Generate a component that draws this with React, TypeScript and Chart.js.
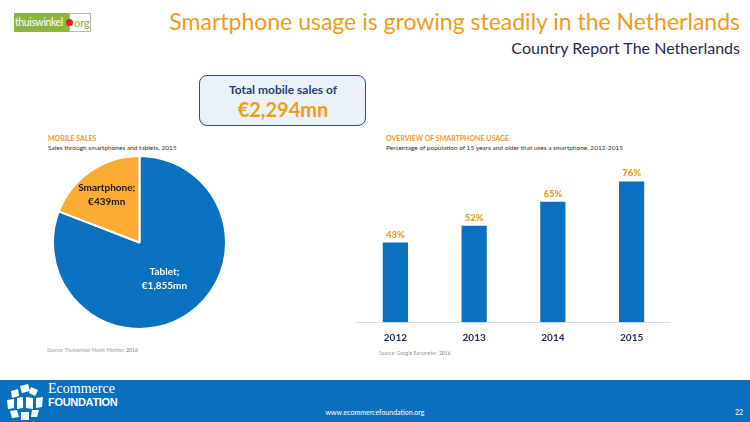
import React, { useEffect, useRef } from "react";
import { Chart, registerables } from "chart.js";

Chart.register(...registerables);

// ---- Data ----
const pieLabels = ["Tablet", "Smartphone"];
const pieValues = [1855, 439];
const pieValueText = ["€1,855mn", "€439mn"];
const barYears = ["2012", "2013", "2014", "2015"];
const barValues = [43, 52, 65, 76];

const BLUE = "#0A70C0";
const PIE_ORANGE = "#FBAB34";
const ORANGE = "#F39A1E";
const NAVY = "#1F2A55";
const FONT = "Lato, 'Open Sans', sans-serif";

const pieLabelPlugin = {
  id: "pieLabels",
  afterDatasetsDraw(chart: any) {
    const ctx = chart.ctx;
    const meta = chart.getDatasetMeta(0);
    const factors = [0.51, 0.67];
    const colors = ["#FFFFFF", "#1A1A1A"];
    meta.data.forEach((arc: any, i: number) => {
      const { x, y, startAngle, endAngle, outerRadius } = arc.getProps(
        ["x", "y", "startAngle", "endAngle", "outerRadius"],
        true
      );
      const mid = (startAngle + endAngle) / 2;
      const r = outerRadius * factors[i];
      const cx = x + Math.cos(mid) * r;
      const cy = y + Math.sin(mid) * r;
      ctx.save();
      ctx.fillStyle = colors[i];
      ctx.font = `bold 10px ${FONT}`;
      ctx.textAlign = "center";
      ctx.textBaseline = "middle";
      ctx.fillText(pieLabels[i] + ";", cx, cy - 7);
      ctx.fillText(pieValueText[i], cx, cy + 7);
      ctx.restore();
    });
  },
};

const barLabelPlugin = {
  id: "barLabels",
  afterDatasetsDraw(chart: any) {
    const ctx = chart.ctx;
    const meta = chart.getDatasetMeta(0);
    meta.data.forEach((bar: any, i: number) => {
      ctx.save();
      ctx.fillStyle = ORANGE;
      ctx.font = `900 9.5px ${FONT}`;
      ctx.textAlign = "center";
      ctx.textBaseline = "middle";
      ctx.fillText(barValues[i] + "%", bar.x, bar.y - 8);
      ctx.restore();
    });
  },
};

function EcomLogo() {
  return (
    <svg width="38" height="36" viewBox="0 0 38 36" style={{ position: "absolute", left: 6, top: 384 }}>
      <g fill="#FFFFFF">
        <polygon points="14,2 22,0 24,7 16,9" />
        <polygon points="25,3 32,6 29,12 23,9" />
        <polygon points="5,7 12,5 13,12 6,14" />
        <polygon points="1,16 8,15 8,24 2,25" />
        <polygon points="30,14 37,13 36,23 30,24" />
        <polygon points="4,27 11,26 13,33 6,34" />
        <polygon points="15,28 23,28 23,36 15,36" />
        <polygon points="26,26 33,26 31,33 25,33" />
        <polygon points="11,14 17,13 17,24 11,25" />
        <polygon points="20,13 27,14 27,25 20,24" />
      </g>
    </svg>
  );
}

export default function App() {
  const pieRef = useRef<HTMLCanvasElement>(null);
  const barRef = useRef<HTMLCanvasElement>(null);

  useEffect(() => {
    const pie = new Chart(pieRef.current!, {
      type: "pie",
      data: {
        labels: pieLabels,
        datasets: [
          {
            data: pieValues,
            backgroundColor: [BLUE, PIE_ORANGE],
            borderColor: "#FFFFFF",
            borderWidth: 2,
          },
        ],
      },
      options: {
        animation: false,
        responsive: false,
        maintainAspectRatio: false,
        plugins: { legend: { display: false }, tooltip: { enabled: false } },
        layout: { padding: 0 },
      },
      plugins: [pieLabelPlugin],
    });

    const bar = new Chart(barRef.current!, {
      type: "bar",
      data: {
        labels: barYears,
        datasets: [
          {
            data: barValues,
            backgroundColor: BLUE,
            barPercentage: 0.32,
            categoryPercentage: 1,
          },
        ],
      },
      options: {
        animation: false,
        responsive: false,
        maintainAspectRatio: false,
        plugins: { legend: { display: false }, tooltip: { enabled: false } },
        layout: { padding: 0 },
        scales: {
          x: {
            grid: { display: false, drawTicks: false },
            border: { display: true, color: "#D9D9D9", width: 1 },
            ticks: {
              color: NAVY,
              font: { family: FONT, size: 10, weight: "bold" },
              padding: 10,
            },
          },
          y: { display: false, min: 0, max: 100 },
        },
      },
      plugins: [barLabelPlugin],
    });

    return () => {
      pie.destroy();
      bar.destroy();
    };
  }, []);

  const abs = (s: React.CSSProperties): React.CSSProperties => ({ position: "absolute", whiteSpace: "nowrap", ...s });

  return (
    <div
      style={{
        position: "fixed",
        left: 0,
        top: 0,
        width: 750,
        height: 422,
        background: "#FFFFFF",
        overflow: "hidden",
        fontFamily: FONT,
      }}
    >
      {/* thuiswinkel logo */}
      <div style={abs({ left: 14, top: 13, width: 55, height: 19, background: "#8DB43C" })} />
      <div style={abs({ left: 15, top: 13, color: "#FFFFFF", fontSize: 10.5, lineHeight: "19px", letterSpacing: -0.4 })}>
        thuiswinkel
      </div>
      <div style={abs({ left: 69, top: 13, width: 20, height: 17, border: "1px solid #B8B8B8", background: "#FFFFFF" })} />
      <div style={abs({ left: 66, top: 19, width: 7, height: 7, borderRadius: 4, background: "#E02020" })} />
      <div style={abs({ left: 74, top: 13, color: "#8DB43C", fontSize: 11, lineHeight: "19px" })}>org</div>

      {/* titles */}
      <div style={abs({ right: 10, top: 5, color: ORANGE, fontSize: 23, lineHeight: "32px" })}>
        Smartphone usage is growing steadily in the Netherlands
      </div>
      <div style={abs({ right: 10, top: 37, color: NAVY, fontSize: 16, lineHeight: "22px" })}>
        Country Report The Netherlands
      </div>

      {/* total box */}
      <div
        style={abs({
          left: 199,
          top: 75,
          width: 165,
          height: 49,
          border: "1.5px solid #34507A",
          borderRadius: 8,
          background: "#EAF1F9",
        })}
      />
      <div style={abs({ left: 199, width: 168, top: 82, textAlign: "center", color: "#1F3F73", fontSize: 12, fontWeight: 700 })}>
        Total mobile sales of
      </div>
      <div style={abs({ left: 199, width: 168, top: 97, textAlign: "center", color: ORANGE, fontSize: 20, fontWeight: 700 })}>
        €2,294mn
      </div>

      {/* left section */}
      <div style={abs({ left: 48, top: 134, color: ORANGE, fontSize: 7, fontWeight: 700 })}>MOBILE SALES</div>
      <div style={abs({ left: 48, top: 144, color: "#333333", fontSize: 6.5 })}>
        Sales through smartphones and tablets, 2015
      </div>
      <canvas ref={pieRef} width={175} height={175} style={{ position: "absolute", left: 52, top: 155, width: 175, height: 175 }} />
      <div style={abs({ left: 47, top: 347, color: "#9A9A9A", fontSize: 5 })}>
        Source: Thuiswinkel Markt Monitor, <b>2016</b>
      </div>

      {/* right section */}
      <div style={abs({ left: 386, top: 134, color: ORANGE, fontSize: 7, fontWeight: 700 })}>
        OVERVIEW OF SMARTPHONE USAGE
      </div>
      <div style={abs({ left: 386, top: 144, color: "#333333", fontSize: 6.5 })}>
        Percentage of population of 15 years and older that uses a smartphone, 2012-2015
      </div>
      <canvas ref={barRef} width={315} height={217} style={{ position: "absolute", left: 356, top: 137, width: 315, height: 217 }} />
      <div style={abs({ left: 379, top: 350, color: "#9A9A9A", fontSize: 5 })}>
        Source: Google Barometer, <b>2016</b>
      </div>

      {/* footer */}
      <div style={abs({ left: 0, top: 380, width: 750, height: 42, background: "#0B6FBF" })} />
      <EcomLogo />
      <div style={abs({ left: 48, top: 381, color: "#FFFFFF", fontSize: 14, fontFamily: "'Liberation Serif', serif", lineHeight: "16px" })}>
        Ecommerce
      </div>
      <div style={abs({ left: 48, top: 396, color: "#FFFFFF", fontSize: 11, fontWeight: 700, fontFamily: "'Liberation Sans', Arial, sans-serif", letterSpacing: -0.3 })}>
        FOUNDATION
      </div>
      <div style={abs({ left: 314, width: 122, top: 408, textAlign: "center", color: "#FFFFFF", fontSize: 7 })}>
        www.ecommercefoundation.org
      </div>
      <div style={abs({ left: 735, top: 408, color: "#FFFFFF", fontSize: 7 })}>22</div>
    </div>
  );
}
